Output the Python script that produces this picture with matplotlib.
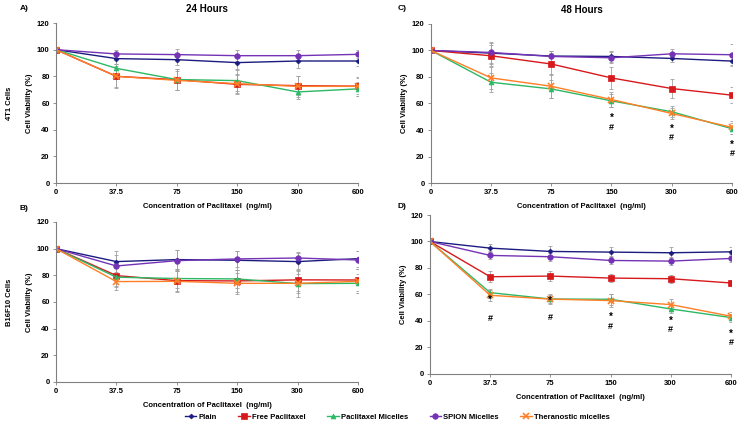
import matplotlib
matplotlib.use("Agg")
import matplotlib.pyplot as plt
import numpy as np

plt.rcParams['font.family'] = ['Liberation Sans', 'DejaVu Sans']
plt.rcParams['font.weight'] = 'bold'

concentrations = ["0", "37.5", "75", "150", "300", "600"]
series_names = ["Plain", "Free Paclitaxel", "Paclitaxel Micelles", "SPION Micelles", "Theranostic micelles"]

# Panel A: 24 h, 4T1
a_plain = [100, 93.3, 92.5, 90.3, 91.5, 91.5]
a_free = [100, 80.0, 77.5, 74.0, 73.0, 72.6]
a_mic = [100, 86.0, 77.6, 76.8, 68.3, 70.6]
a_spion = [100, 96.8, 96.3, 95.5, 95.5, 96.5]
a_thera = [100, 80.0, 77.0, 74.5, 72.5, 72.5]
a_err = [[0, 4, 4, 5, 5, 4], [0, 8, 8, 7, 7, 6], [0, 8, 8, 8, 5, 5], [0, 3, 4, 4, 4, 3], [0, 9, 7, 7, 8, 7]]

# Panel B: 24 h, B16F10
b_plain = [100, 90.3, 91.8, 91.3, 90.3, 92.5]
b_free = [100, 79.8, 76.0, 75.8, 76.6, 76.5]
b_mic = [100, 78.6, 77.6, 77.3, 73.8, 74.0]
b_spion = [100, 87.0, 91.0, 92.3, 93.0, 91.5]
b_thera = [100, 75.3, 75.5, 74.0, 74.0, 75.5]
b_err = [[0, 8, 7, 7, 7, 6], [0, 8, 8, 8, 8, 8], [0, 7, 7, 7, 7, 7], [0, 8, 8, 6, 4, 7], [0, 6, 8, 8, 10, 9]]

# Panel C: 48 h, 4T1
c_plain = [100, 98.0, 95.8, 95.5, 94.0, 92.0]
c_free = [100, 96.0, 89.8, 79.3, 71.3, 66.3]
c_mic = [100, 76.0, 71.0, 62.0, 53.8, 41.0]
c_spion = [100, 98.5, 95.5, 94.5, 97.5, 96.8]
c_thera = [100, 79.3, 73.0, 63.0, 52.5, 42.0]
c_err = [[0, 8, 4, 4, 3, 4], [0, 8, 8, 8, 7, 6], [0, 7, 7, 5, 4, 4], [0, 8, 4, 4, 4, 8], [0, 8, 9, 6, 4, 5]]
c_marks = [3, 4, 5]
c_star = [48.8, 41.0, 28.5]
c_hash = [41.8, 34.5, 22.0]

# Panel D: 48 h, B16F10
d_plain = [100, 95.0, 92.5, 92.0, 91.5, 92.2]
d_free = [100, 73.4, 73.9, 72.4, 71.9, 68.7]
d_mic = [100, 61.4, 56.6, 56.4, 49.1, 42.6]
d_spion = [100, 89.5, 88.5, 85.7, 85.2, 87.2]
d_thera = [100, 59.4, 56.5, 55.4, 52.4, 43.6]
d_err = [[0, 3, 4, 4, 4, 4], [0, 4, 4, 3, 3, 2], [0, 3, 3, 4, 3, 3], [0, 3, 3, 3, 3, 3], [0, 4, 4, 5, 4, 3]]
d_marks = [1, 2, 3, 4, 5]
d_star = [55.6, 55.0, 42.9, 40.0, 30.6]
d_hash = [42.0, 42.6, 35.8, 33.6, 23.8]

colors = ["#1c1c80", "#d7191c", "#2db865", "#7433b5", "#ff7f27"]
markers = ["D", "s", "^", "o", "x"]
msizes = [2.5, 4, 3.5, 4, 4]

W, H = 743, 426
fig = plt.figure(figsize=(W / 100, H / 100), dpi=100)

# (rect, data, errors, letter, letter_px(x, y), title, cell label, mark positions, star y, hash y)
panels = [
    ([0.0754, 0.5704, 0.4064, 0.3756], [a_plain, a_free, a_mic, a_spion, a_thera], a_err, "A)", (20, 9), "24 Hours", "4T1 Cells", None, None, None),
    ([0.0754, 0.1033, 0.4064, 0.3756], [b_plain, b_free, b_mic, b_spion, b_thera], b_err, "B)", (20, 209), None, "B16F10 Cells", None, None, None),
    ([0.5800, 0.5704, 0.4050, 0.3733], [c_plain, c_free, c_mic, c_spion, c_thera], c_err, "C)", (398, 8), "48 Hours", None, c_marks, c_star, c_hash),
    ([0.5787, 0.1221, 0.4050, 0.3732], [d_plain, d_free, d_mic, d_spion, d_thera], d_err, "D)", (398, 207), None, None, d_marks, d_star, d_hash),
]

x = np.arange(len(concentrations))
handles = []
for rect, data, errs, letter, lpos, title, cell, mk, st, hs in panels:
    ax = fig.add_axes(rect)
    hh = []
    for vals, err, col, m, ms, name in zip(data, errs, colors, markers, msizes, series_names):
        ax.errorbar(x, vals, yerr=err, fmt='none', ecolor='#a0a0a0', elinewidth=0.6, capsize=1.5, capthick=0.6, zorder=1)
        mew = 1.2 if m == "x" else 0.5
        h, = ax.plot(x, vals, color=col, marker=m, markersize=ms, linewidth=1.0,
                     markeredgewidth=mew, label=name, zorder=2)
        hh.append(h)
    handles = hh
    if mk is not None:
        for i, s, hv in zip(mk, st, hs):
            ax.text(i, s, "*", ha='center', va='center', fontsize=7, fontweight='bold')
            ax.text(i, hv, "#", ha='center', va='center', fontsize=6.5, fontweight='bold')
    ax.set_xlim(0, 5)
    ax.set_ylim(0, 120)
    ax.set_xticks(x)
    ax.set_xticklabels(concentrations)
    ax.set_yticks(np.arange(0, 121, 20))
    ax.tick_params(labelsize=5.5, length=2.5, width=0.6, color='#808080', pad=2)
    for t in ax.get_xticklabels() + ax.get_yticklabels():
        t.set_fontweight('bold')
    for s in ["top", "right"]:
        ax.spines[s].set_visible(False)
    for s in ["left", "bottom"]:
        ax.spines[s].set_color('#808080')
        ax.spines[s].set_linewidth(0.8)
    ax.set_xlabel("Concentration of Paclitaxel  (ng/ml)", fontsize=5.5, fontweight='bold', labelpad=5)
    ax.set_ylabel("Cell Viability (%)", fontsize=5.5, fontweight='bold', labelpad=3)
    fig.text(lpos[0] / W, 1 - lpos[1] / H, letter, fontsize=6, fontweight='bold', ha='left', va='center')
    if title:
        ax.set_title(title, fontsize=7, fontweight='bold', pad=8)
    if cell:
        fig.text(0.013, rect[1] + rect[3] * 0.5, cell, rotation=90, fontsize=5.5,
                 fontweight='bold', ha='center', va='center')

fig.legend(handles, series_names, loc='center', bbox_to_anchor=(0.535, 0.02), ncol=5, frameon=False,
           fontsize=5.5, handlelength=1.5, columnspacing=2.8, handletextpad=0.3)

fig.savefig("out.png", dpi=100)
